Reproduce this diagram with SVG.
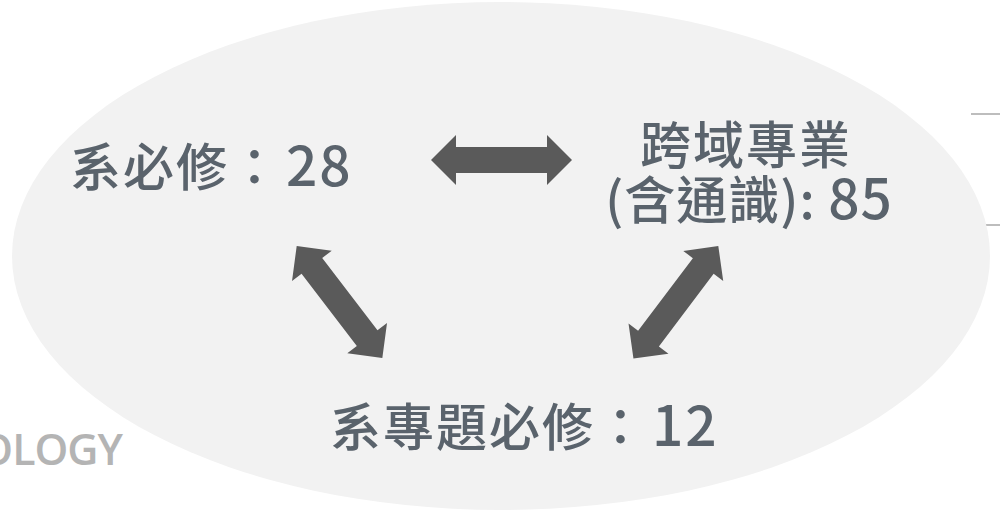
<svg xmlns="http://www.w3.org/2000/svg" width="1000" height="512" viewBox="0 0 1000 512">
<style>
.lbl{font-family:"Noto Sans CJK TC","Noto Sans",sans-serif;font-size:51px;font-weight:500;fill:#5a636c;letter-spacing:2px}
.num{font-size:55px}
.bg{font-family:"Open Sans","Noto Sans",sans-serif;font-size:43px;font-weight:600;fill:#b4b4b4;letter-spacing:-1px}
.arr{fill:#5a5a5a}
.rule{stroke:#bdbdbd;stroke-width:2}
</style>
<defs>
<path id="dbl" d="M0,0 L25,-25 L25,-13 L116,-13 L116,-25 L141,0 L116,25 L116,13 L25,13 L25,25 Z"/>
</defs>
<rect width="1000" height="512" fill="#ffffff"/>
<text class="bg" x="122" y="465" text-anchor="end">OLOGY</text>
<line class="rule" x1="971" y1="114" x2="1000" y2="114"/>
<line class="rule" x1="980" y1="225" x2="1000" y2="225"/>
<ellipse id="circle" cx="501" cy="256" rx="489" ry="254" fill="#f2f2f2"/>
<g id="node-required">
<text class="lbl" x="70" y="186">系必修：<tspan class="num" dx="4">28</tspan></text>
</g>
<g id="node-cross">
<text class="lbl" x="746" y="164" text-anchor="middle">跨域專業</text>
<text class="lbl" x="749" y="219" text-anchor="middle" style="letter-spacing:1px">(含通識): <tspan class="num">85</tspan></text>
</g>
<g id="node-project">
<text class="lbl" x="330" y="446">系專題必修：<tspan class="num" dx="4">12</tspan></text>
</g>
<g id="connectors" class="arr">
<use href="#dbl" transform="translate(431,160)"/>
<use href="#dbl" transform="translate(296.7,246) rotate(52.6)"/>
<use href="#dbl" transform="translate(718.3,246) rotate(127)"/>
</g>
</svg>
